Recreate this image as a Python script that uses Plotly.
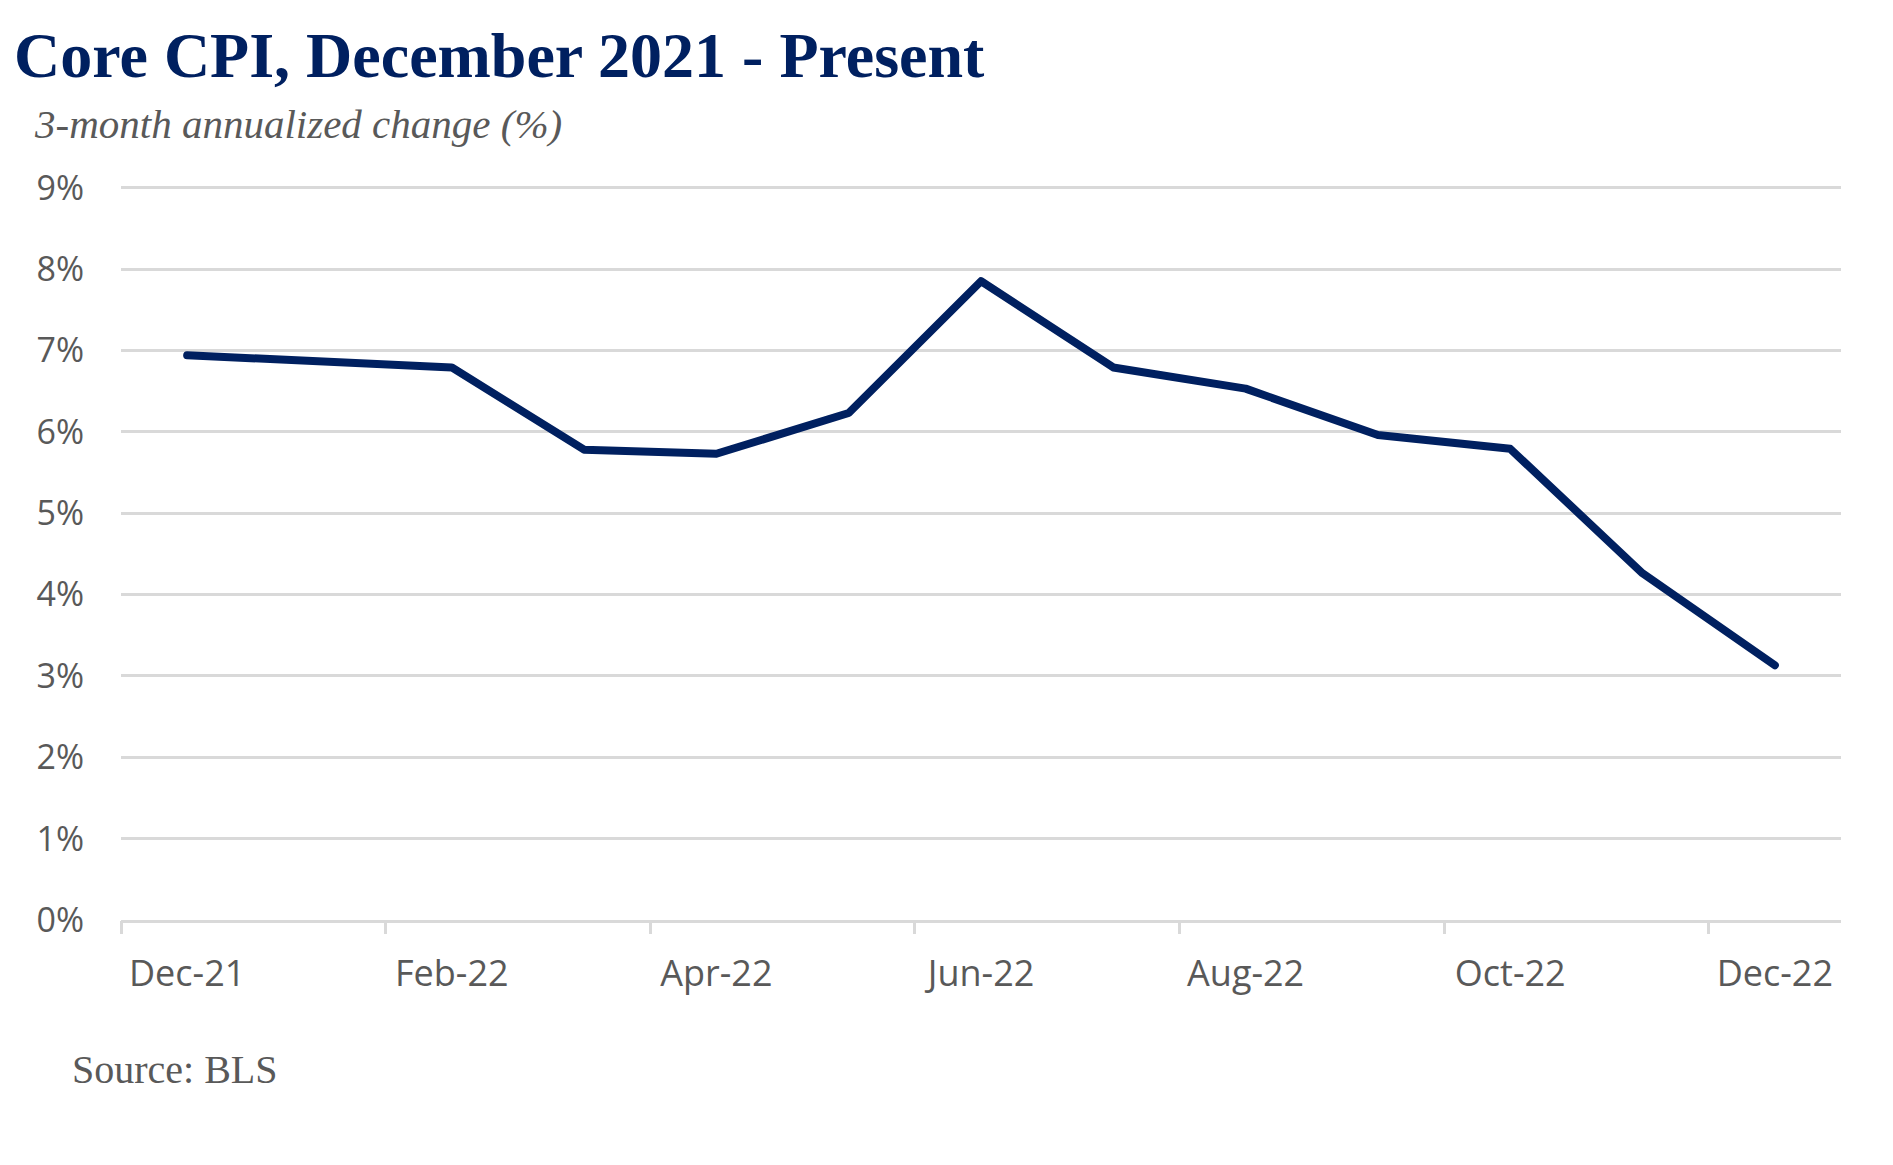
import plotly.graph_objects as go

months = ["Dec-21", "Jan-22", "Feb-22", "Mar-22", "Apr-22", "May-22", "Jun-22",
          "Jul-22", "Aug-22", "Sep-22", "Oct-22", "Nov-22", "Dec-22"]
core_cpi_3m = [6.94, 6.86, 6.79, 5.78, 5.73, 6.23, 7.85, 6.79, 6.53, 5.96, 5.79, 4.26, 3.13]
y_ticks = [0, 1, 2, 3, 4, 5, 6, 7, 8, 9]
y_tick_labels = [f"{v}%" for v in y_ticks]

W, H = 1893, 1165
L, R, T, B = 121, 52, 186, 245
PW, PH = W - L - R, H - T - B

def px_x(x):
    return (x - L) / PW

def px_y(y):
    return (H - B - y) / PH

idx = list(range(len(months)))
label_idx = idx[::2]
boundary_idx = [i - 0.5 for i in label_idx]

GRID = "#d9d9d9"
TXT = "#595959"
NAVY = "#002060"

fig = go.Figure()
fig.add_trace(go.Scatter(x=idx, y=core_cpi_3m, mode="lines",
                         line=dict(color=NAVY, width=8), showlegend=False,
                         hoverinfo="skip"))
# invisible trace on second x axis for boundary tick marks
fig.add_trace(go.Scatter(x=idx, y=core_cpi_3m, mode="lines", xaxis="x2",
                         line=dict(color="rgba(0,0,0,0)", width=0), showlegend=False,
                         hoverinfo="skip"))

xr = [-0.5, len(months) - 0.5]
fig.update_layout(
    width=W, height=H,
    margin=dict(l=L, r=R, t=T, b=B),
    paper_bgcolor="white", plot_bgcolor="white",
    xaxis=dict(range=xr, tickmode="array", tickvals=label_idx,
               ticktext=[months[i] for i in label_idx],
               showgrid=False, zeroline=False, showline=True,
               linecolor=GRID, linewidth=2.5, ticks="",
               ticklabelstandoff=20,
               tickfont=dict(family="Open Sans", size=36, color=TXT)),
    xaxis2=dict(range=xr, overlaying="x", side="bottom", tickmode="array",
                tickvals=boundary_idx, ticks="outside", ticklen=13,
                tickwidth=2.5, tickcolor=GRID, showticklabels=False,
                showgrid=False, zeroline=False, showline=False),
    yaxis=dict(range=[0, 9.02], tickmode="array", tickvals=y_ticks,
               ticktext=y_tick_labels, showgrid=True, gridcolor=GRID,
               gridwidth=2.5, zeroline=False, showline=False, ticks="",
               ticklabelstandoff=36,
               tickfont=dict(family="Open Sans", size=34, color=TXT)),
    annotations=[
        dict(text="<b>Core CPI, December 2021 - Present</b>", xref="paper", yref="paper",
             x=px_x(12), y=px_y(18), xanchor="left", yanchor="top", showarrow=False,
             font=dict(family="Liberation Serif", size=64, color=NAVY)),
        dict(text="<i>3-month annualized change (%)</i>", xref="paper", yref="paper",
             x=px_x(32), y=px_y(99), xanchor="left", yanchor="top", showarrow=False,
             font=dict(family="Liberation Serif", size=41, color=TXT)),
        dict(text="Source: BLS", xref="paper", yref="paper",
             x=px_x(70), y=px_y(1045), xanchor="left", yanchor="top", showarrow=False,
             font=dict(family="Liberation Serif", size=40, color=TXT)),
    ],
)

post = ("document.body.style.margin='0';"
        "document.querySelectorAll('.scatterlayer path.js-line').forEach(function(p){"
        "p.style.strokeLinecap='round';p.style.strokeLinejoin='round';});")
fig.write_html("out.html", post_script=post, config={"displayModeBar": False})
